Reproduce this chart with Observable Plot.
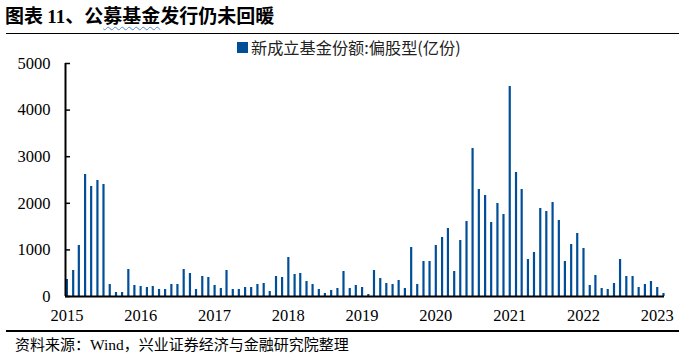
<!DOCTYPE html>
<html><head><meta charset="utf-8">
<script src="https://cdn.jsdelivr.net/npm/d3@7"></script>
<script src="https://cdn.jsdelivr.net/npm/@observablehq/plot@0.6"></script>
<style>
body{margin:0;background:#fff;width:687px;height:356px;position:relative;overflow:hidden;font-family:"Noto Sans CJK SC",sans-serif;color:#000;}
#title{position:absolute;left:5px;top:2px;font-size:19px;font-weight:bold;white-space:nowrap;line-height:26px;}
#title .num{font-family:"Liberation Serif",serif;}
#title .sq{text-decoration:underline wavy #5a8ad8;text-decoration-thickness:1px;text-underline-offset:3px;}
.hline{position:absolute;left:6px;width:673px;height:1.6px;background:#000;}
#legend{position:absolute;left:237px;top:37px;font-size:16.2px;white-space:nowrap;line-height:20px;display:flex;align-items:center;color:#222;z-index:2;}
#legend .sw{display:inline-block;width:11px;height:11px;background:#004E98;margin-right:3px;}
#chart{position:absolute;left:0;top:40px;z-index:1;}
#caption{position:absolute;left:15px;top:333px;font-size:15px;white-space:nowrap;line-height:22px;}
#caption .en{font-family:"Liberation Serif",serif;font-size:15.5px;}
</style>
</head><body>
<div id="title">图表 <span class="num">11</span>、公<span class="sq">募基金</span>发行仍未回暖</div>
<div class="hline" style="top:32.5px"></div>
<div id="legend"><span class="sw"></span><span id="legendText"></span></div>
<div id="chart"></div>
<div class="hline" style="top:330px"></div>
<div id="caption">资料来源：<span class="en">Wind</span>，兴业证券经济与金融研究院整理</div>
<script>
const seriesName = "新成立基金份额:偏股型(亿份)";
const startMonth = [2015, 0];
const values = [
  365, 558, 1094, 2618, 2360, 2489, 2403, 257, 86, 86, 579, 236,
  215, 193, 215, 150, 150, 257, 257, 579, 494, 150, 429, 408,
  236, 172, 558, 150, 150, 193, 193, 257, 279, 107, 429, 408,
  837, 472, 494, 322, 257, 150, 64, 129, 172, 536, 172, 236,
  193, 43, 558, 386, 279, 257, 343, 172, 1051, 257, 751, 751,
  1094, 1266, 1459, 536, 1202, 1609, 3176, 2296, 2167, 1588, 1996, 1760,
  4506, 2661, 2296, 794, 944, 1888, 1824, 2017, 1631, 751, 1116, 1352,
  1030, 236, 451, 172, 150, 279, 794, 429, 429, 193, 257, 322,
  193, 64
];
const yTicks = [0, 1000, 2000, 3000, 4000, 5000];
const yearTicks = [2015, 2016, 2017, 2018, 2019, 2020, 2021, 2022, 2023];
const barColor = "#004E98";

document.getElementById("legendText").textContent = seriesName;

const data = values.map((v, i) => ({
  date: new Date(Date.UTC(startMonth[0], startMonth[1] + i, 1)),
  value: v
}));
const xStart = new Date(Date.UTC(2014, 11, 25));
const xEnd = new Date(Date.UTC(2023, 1, 6));

const chart = Plot.plot({
  width: 687,
  height: 286,
  marginLeft: 65,
  marginRight: 23,
  marginTop: 23,
  marginBottom: 30,
  style: {fontFamily: "'Liberation Serif', serif", fontSize: "16.5px", color: "#000", background: "transparent"},
  x: {type: "utc", domain: [xStart, xEnd]},
  y: {domain: [0, 5000]},
  marks: [
    Plot.ruleX(data, {x: "date", y: "value", stroke: barColor, strokeWidth: 2.2}),
    Plot.ruleY([0], {stroke: "#000", strokeWidth: 2}),
    Plot.ruleX([xStart], {y1: yTicks[0], y2: yTicks[yTicks.length - 1], stroke: "#000", strokeWidth: 2}),
    Plot.axisY(yTicks, {tickSize: -5, tickPadding: 20, strokeWidth: 1.5, label: null, fontSize: 16.5, tickFormat: d => String(d)}),
    Plot.axisX(yearTicks.map(y => new Date(Date.UTC(y, 0, 1))), {tickSize: 0, tickPadding: 13, tickFormat: d3.utcFormat("%Y"), label: null, fontSize: 16.5})
  ]
});
document.getElementById("chart").appendChild(chart);
</script>
</body></html>
